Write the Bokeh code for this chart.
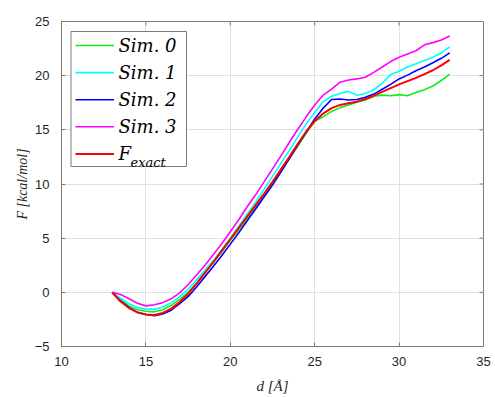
from bokeh.plotting import figure
from bokeh.models import Range1d, Label, FixedTicker, BoxAnnotation, Arrow
from bokeh.embed import file_html
from bokeh.resources import INLINE

# ---- data ----
d = [13.0, 13.5, 14.0, 14.5, 15.0, 15.5, 16.0, 16.5, 17.0, 17.5,
     18.0, 18.5, 19.0, 19.5, 20.0, 20.5, 21.0, 21.5, 22.0, 22.5,
     23.0, 23.5, 24.0, 24.5, 25.0, 25.5, 26.0, 26.5, 27.0, 27.5,
     28.0, 28.5, 29.0, 29.5, 30.0, 30.5, 31.0, 31.5, 32.0, 32.5, 33.0]

sim0 = [0.0, -0.7, -1.25, -1.6, -1.75, -1.8, -1.6, -1.2, -0.65, 0.0,
        0.85, 1.8, 2.75, 3.75, 4.8, 5.8, 6.85, 7.9, 9.0, 10.1,
        11.2, 12.35, 13.5, 14.7, 15.8, 16.2, 16.7, 17.05, 17.3, 17.55,
        17.75, 18.1, 18.2, 18.15, 18.25, 18.15, 18.45, 18.7, 19.05, 19.55, 20.15]

sim1 = [0.0, -0.55, -1.05, -1.4, -1.55, -1.55, -1.35, -0.95, -0.4, 0.3,
        1.15, 2.05, 2.95, 3.95, 5.0, 6.1, 7.2, 8.3, 9.5, 10.7,
        11.9, 13.1, 14.35, 15.55, 16.6, 17.6, 18.1, 18.35, 18.55, 18.2,
        18.35, 18.7, 19.3, 20.1, 20.4, 20.8, 21.1, 21.4, 21.7, 22.1, 22.66]

sim2 = [0.0, -0.8, -1.4, -1.85, -2.05, -2.15, -2.0, -1.65, -1.05, -0.4,
        0.5, 1.45, 2.4, 3.4, 4.45, 5.5, 6.6, 7.7, 8.8, 9.9,
        11.1, 12.35, 13.6, 14.8, 16.0, 17.0, 17.8, 17.85, 17.75, 17.8,
        18.0, 18.3, 18.75, 19.2, 19.7, 20.05, 20.45, 20.8, 21.2, 21.6, 22.1]

sim3 = [0.0, -0.2, -0.6, -1.0, -1.25, -1.15, -0.95, -0.6, -0.05, 0.7,
        1.6, 2.5, 3.5, 4.5, 5.6, 6.7, 7.9, 9.0, 10.2, 11.4,
        12.6, 13.85, 15.05, 16.2, 17.3, 18.2, 18.75, 19.4, 19.6, 19.7,
        19.85, 20.3, 20.8, 21.3, 21.7, 22.0, 22.3, 22.85, 23.05, 23.3, 23.67]

f_exact = [0.0, -0.85, -1.45, -1.85, -2.05, -2.1, -1.9, -1.5, -0.9, -0.15,
           0.8, 1.8, 2.8, 3.85, 4.9, 5.95, 7.0, 8.05, 9.1, 10.2,
           11.35, 12.5, 13.7, 14.85, 15.8, 16.5, 17.0, 17.3, 17.45, 17.6,
           17.85, 18.15, 18.5, 18.85, 19.2, 19.5, 19.8, 20.15, 20.5, 20.95, 21.45]

x_ticks = [10, 15, 20, 25, 30, 35]
y_ticks = [-5, 0, 5, 10, 15, 20, 25]
series_labels = ["Sim. 0", "Sim. 1", "Sim. 2", "Sim. 3", "F"]
subscript_label = "exact"
series_colors = ["#11ee11", "#00ffff", "#0000ff", "#ff00ff", "#ff0000"]

# ---- layout constants (pixels) ----
W, H = 495, 397
ML, MR, MT, MB = 61, 12, 21, 51
X0, X1, Y0, Y1 = 10, 35, -5, 25
FW, FH = W - ML - MR, H - MT - MB
TICK = 4


def dx(px):
    return X0 + (px - ML) * (X1 - X0) / FW


def dy(py):
    return Y1 - (py - MT) * (Y1 - Y0) / FH


p = figure(width=W, height=H, output_backend="svg", toolbar_location=None,
           x_range=Range1d(X0, X1), y_range=Range1d(Y0, Y1),
           min_border_left=ML, min_border_right=MR, min_border_top=MT, min_border_bottom=MB)
p.background_fill_color = "white"
p.border_fill_color = "white"
p.outline_line_color = "#7a7a7a"
p.outline_line_width = 1

AX_COLOR = "#7a7a7a"
TXT_COLOR = "#262626"

for ax, ticks in ((p.xaxis[0], x_ticks), (p.yaxis[0], y_ticks)):
    ax.ticker = FixedTicker(ticks=ticks)
    ax.major_tick_in = TICK
    ax.major_tick_out = 0
    ax.minor_tick_line_color = None
    ax.axis_line_color = AX_COLOR
    ax.major_tick_line_color = AX_COLOR
    ax.major_label_text_font = "Liberation Sans"
    ax.major_label_text_font_size = "13px"
    ax.major_label_text_color = TXT_COLOR
    ax.axis_label_text_font = "Liberation Serif"
    ax.axis_label_text_font_style = "italic"
    ax.axis_label_text_color = TXT_COLOR

p.xaxis[0].axis_label = "d [Å]"
p.yaxis[0].axis_label = "F [kcal/mol]"
p.xaxis[0].axis_label_text_font_size = "15px"
p.yaxis[0].axis_label_text_font_size = "14px"
p.xaxis[0].major_label_standoff = 10
p.yaxis[0].major_label_standoff = 12
p.xaxis[0].axis_label_standoff = 9
p.yaxis[0].axis_label_standoff = 2

p.xgrid.ticker = FixedTicker(ticks=x_ticks)
p.ygrid.ticker = FixedTicker(ticks=y_ticks)
p.grid.grid_line_color = "#e0e0e0"
p.grid.grid_line_width = 1

# mirrored inward ticks on the top and right edges (box on)
for t in x_ticks[1:-1]:
    p.add_layout(Arrow(x_start=t, y_start=Y1, x_end=t, y_end=dy(MT + TICK),
                       start=None, end=None, line_color=AX_COLOR, line_width=1))
for t in y_ticks[1:-1]:
    p.add_layout(Arrow(x_start=X1, y_start=t, x_end=dx(ML + FW - TICK), y_end=t,
                       start=None, end=None, line_color=AX_COLOR, line_width=1))

# ---- lines ----
series = [sim0, sim1, sim2, sim3, f_exact]
widths = [1.6, 1.6, 1.6, 1.6, 2.0]
for ys, col, w in zip(series, series_colors, widths):
    p.line(d, ys, line_color=col, line_width=w)

# ---- legend (drawn as annotations) ----
LEG_L, LEG_R, LEG_T, LEG_B = 70.5, 186, 31, 166
ROW0, ROW_STEP = 45, 27.1
p.add_layout(BoxAnnotation(left=dx(LEG_L), right=dx(LEG_R), top=dy(LEG_T), bottom=dy(LEG_B),
                           fill_color="white", fill_alpha=1.0,
                           line_color="#7a7a7a", line_width=1, line_alpha=1.0))
for i, (lab, col, w) in enumerate(zip(series_labels, series_colors, widths)):
    yc = ROW0 + i * ROW_STEP
    p.add_layout(Arrow(x_start=dx(75), y_start=dy(yc), x_end=dx(113.5), y_end=dy(yc),
                       start=None, end=None, line_color=col, line_width=w))
    p.add_layout(Label(x=dx(118), y=dy(yc), text=lab, text_font="DejaVu Serif",
                       text_font_style="italic", text_font_size="18px",
                       text_color="black", text_baseline="middle", text_align="left"))
    if i == len(series_labels) - 1:
        p.add_layout(Label(x=dx(130), y=dy(yc + 8.5), text=subscript_label,
                           text_font="DejaVu Serif", text_font_style="italic",
                           text_font_size="13px", text_color="black",
                           text_baseline="alphabetic", text_align="left"))

open("out.html", "w").write(file_html(p, INLINE))
